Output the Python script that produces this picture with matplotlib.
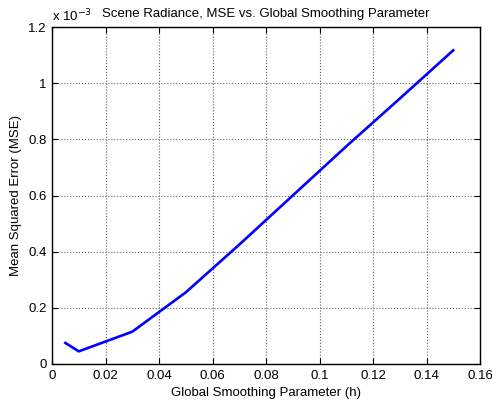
import matplotlib
matplotlib.use("Agg")
import matplotlib.pyplot as plt

h_values = [0.005, 0.01, 0.03, 0.05, 0.07, 0.09, 0.11, 0.13, 0.15]
mse_values = [0.075e-3, 0.045e-3, 0.115e-3, 0.255e-3, 0.425e-3, 0.60e-3, 0.775e-3, 0.945e-3, 1.117e-3]
x_ticks = [0, 0.02, 0.04, 0.06, 0.08, 0.1, 0.12, 0.14, 0.16]
x_tick_labels = ["0", "0.02", "0.04", "0.06", "0.08", "0.1", "0.12", "0.14", "0.16"]
y_ticks = [0, 0.2e-3, 0.4e-3, 0.6e-3, 0.8e-3, 1.0e-3, 1.2e-3]
y_tick_labels = ["0", "0.2", "0.4", "0.6", "0.8", "1", "1.2"]

plt.rcParams['font.family'] = ['Liberation Sans', 'DejaVu Sans']
plt.rcParams['font.size'] = 9.5

fig = plt.figure(figsize=(4.92, 4.04), dpi=100)
ax = fig.add_axes([52/492, 40/404, 428/492, 337/404])
ax.plot(h_values, mse_values, color='#0000ff', linewidth=1.9)
ax.set_xlim(0, 0.16)
ax.set_ylim(0, 1.2e-3)
ax.set_xticks(x_ticks)
ax.set_xticklabels(x_tick_labels)
ax.set_yticks(y_ticks)
ax.set_yticklabels(y_tick_labels)
ax.grid(True, linestyle=':', color='#606060', linewidth=0.8)
ax.tick_params(direction='in', top=True, right=True, length=4, width=0.8, labelsize=9.5, pad=4)
for s in ax.spines.values():
    s.set_linewidth(1.0)
ax.set_title('Scene Radiance, MSE vs. Global Smoothing Parameter', fontsize=9.5, pad=7)
ax.set_xlabel('Global Smoothing Parameter (h)', fontsize=9.5, labelpad=4)
ax.set_ylabel('Mean Squared Error (MSE)', fontsize=9.5, labelpad=4)
ax.text(0.0, 1.008, r'x 10$^{-3}$', transform=ax.transAxes, fontsize=9.5, ha='left', va='bottom')
fig.savefig('out.png', dpi=100)
